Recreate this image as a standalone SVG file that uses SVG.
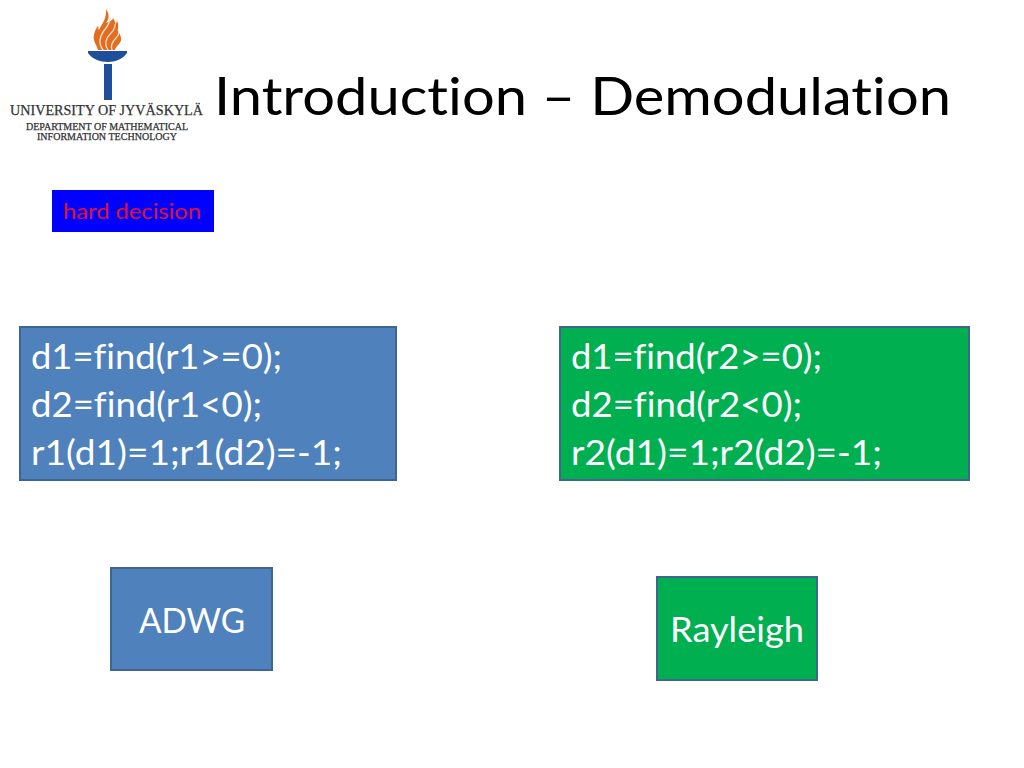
<svg xmlns="http://www.w3.org/2000/svg" width="1024" height="768" viewBox="0 0 1024 768">
<style>
text{font-family:"Lato","Noto Sans",sans-serif;font-variant-ligatures:none}
.box{stroke:#3f6690;stroke-width:2}
.blue{fill:#4f81bd}
.green{fill:#00b050}
.t{fill:#fff;font-size:34px}
.logo{font-family:"Liberation Serif",serif;fill:#333;stroke:#333;stroke-width:.25}
.flame{fill:#e46c1e}
.gap{fill:none;stroke:#fbe3d0;stroke-width:1.3;stroke-linecap:round}
.torch{fill:#1f4e9a}
</style>
<rect width="1024" height="768" fill="#fff"/>
<g id="logo">
<path class="flame" d="M106 9C110 15 109 19 106 23C109 22 113 20 113 18C117 24 115 27 114 29L117 21C120 27 117 29 118 31C122 37 122 41 119 44C116 47 115 49 115 50H98C97 46 95 44 94 40C93 35 95 30 98 26C99 28 98 30 99 30C101 25 107 19 106 9Z"/>
<path class="gap" d="M103 50C97 42 101 34 106 28C109 24 110 20 110 17"/>
<path class="gap" d="M108 50C104 44 106 38 111 33C114 30 115 27 115 25"/>
<path class="gap" d="M112 50C110 45 113 41 116 38C118 36 119 34 119 32"/>
<path class="torch" d="M88 51H127V53C123 59 115 62 108 62C100 62 92 59 88 53Z"/>
<rect class="torch" x="104" y="64" width="8" height="36"/>
<text class="logo" x="10" y="115" font-size="14.5" textLength="193" lengthAdjust="spacingAndGlyphs">UNIVERSITY OF JYVÄSKYLÄ</text>
<text class="logo" x="26" y="130" font-size="9.5" textLength="162" lengthAdjust="spacingAndGlyphs">DEPARTMENT OF MATHEMATICAL</text>
<text class="logo" x="37" y="140" font-size="9.5" textLength="140" lengthAdjust="spacingAndGlyphs">INFORMATION TECHNOLOGY</text>
</g>
<g id="title"><text x="214" y="115" font-size="53" fill="#000" textLength="737" lengthAdjust="spacingAndGlyphs">Introduction – Demodulation</text></g>
<g id="hard-decision">
<rect x="52" y="190" width="162" height="42" fill="#0000ff"/>
<text x="63" y="219" font-size="22" fill="#e0102e" textLength="138" lengthAdjust="spacingAndGlyphs">hard decision</text>
</g>
<g id="code-r1">
<rect class="box blue" x="20" y="327" width="376" height="153"/>
<text class="t" x="31" y="369" textLength="251" lengthAdjust="spacingAndGlyphs">d1=find(r1&gt;=0);</text>
<text class="t" x="31" y="417" textLength="231" lengthAdjust="spacingAndGlyphs">d2=find(r1&lt;0);</text>
<text class="t" x="31" y="465" textLength="311" lengthAdjust="spacingAndGlyphs">r1(d1)=1;r1(d2)=-1;</text>
</g>
<g id="code-r2">
<rect class="box green" x="560" y="327" width="409" height="153"/>
<text class="t" x="571" y="369" textLength="251" lengthAdjust="spacingAndGlyphs">d1=find(r2&gt;=0);</text>
<text class="t" x="571" y="417" textLength="231" lengthAdjust="spacingAndGlyphs">d2=find(r2&lt;0);</text>
<text class="t" x="571" y="465" textLength="311" lengthAdjust="spacingAndGlyphs">r2(d1)=1;r2(d2)=-1;</text>
</g>
<g id="adwg">
<rect class="box blue" x="111" y="568" width="161" height="102"/>
<text class="t" x="139" y="633" textLength="106" lengthAdjust="spacingAndGlyphs">ADWG</text>
</g>
<g id="rayleigh">
<rect class="box green" x="657" y="577" width="160" height="103"/>
<text class="t" x="670" y="642" textLength="134" lengthAdjust="spacingAndGlyphs">Rayleigh</text>
</g>
<g id="connectors"/>
</svg>
